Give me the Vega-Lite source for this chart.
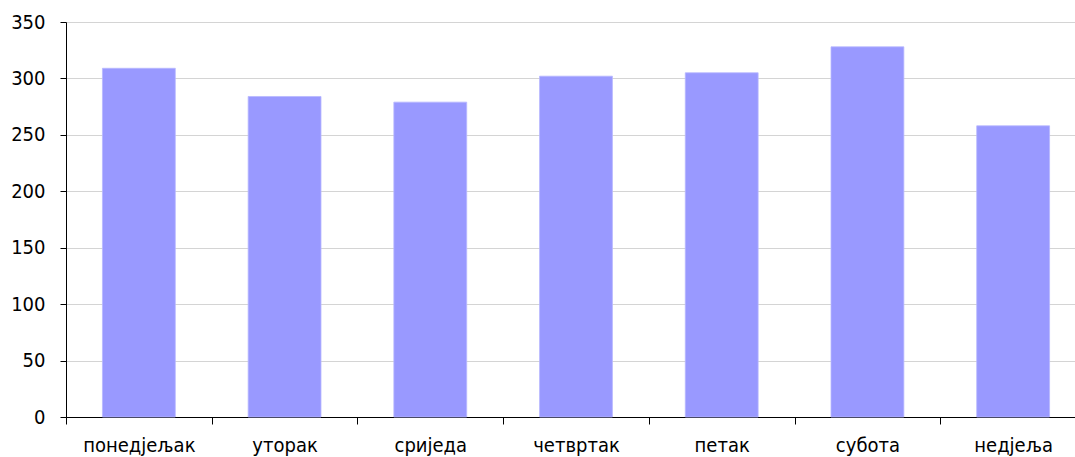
{
  "$schema": "https://vega.github.io/schema/vega-lite/v6.json",
  "autosize": "none",
  "width": 1020,
  "height": 395,
  "padding": {"left": 66, "top": 22, "right": 0, "bottom": 40},
  "background": "white",
  "config": {"view": {"stroke": null}, "font": "DejaVu Sans Condensed"},
  "data": {"values": [
    {"dan": "понедјељак", "v": 309},
    {"dan": "уторак", "v": 284},
    {"dan": "сриједа", "v": 279},
    {"dan": "четвртак", "v": 302},
    {"dan": "петак", "v": 305},
    {"dan": "субота", "v": 328},
    {"dan": "недјеља", "v": 258}
  ]},
  "mark": {"type": "bar", "color": "#9999ff", "stroke": "#b8b8ff", "strokeWidth": 0.8, "width": {"band": 0.5}},
  "encoding": {
    "x": {"field": "dan", "type": "nominal", "sort": null,
      "scale": {"paddingInner": 0, "paddingOuter": 0},
      "axis": {"title": null, "labelAngle": 0, "tickBand": "extent", "domainColor": "#000", "tickColor": "#000", "tickSize": 7, "labelPadding": 11, "labelFontSize": 20, "labelColor": "#000", "labelFont": "DejaVu Sans Condensed", "labelFontWeight": "normal"}},
    "y": {"field": "v", "type": "quantitative",
      "scale": {"domain": [0, 350], "nice": false},
      "axis": {"title": null, "values": [0, 50, 100, 150, 200, 250, 300, 350], "gridColor": "#d4d4d4", "domainColor": "#000", "tickColor": "#000", "tickSize": 6, "labelPadding": 15, "labelFontSize": 20, "labelColor": "#000", "labelFont": "DejaVu Sans Condensed"}}
  }
}
